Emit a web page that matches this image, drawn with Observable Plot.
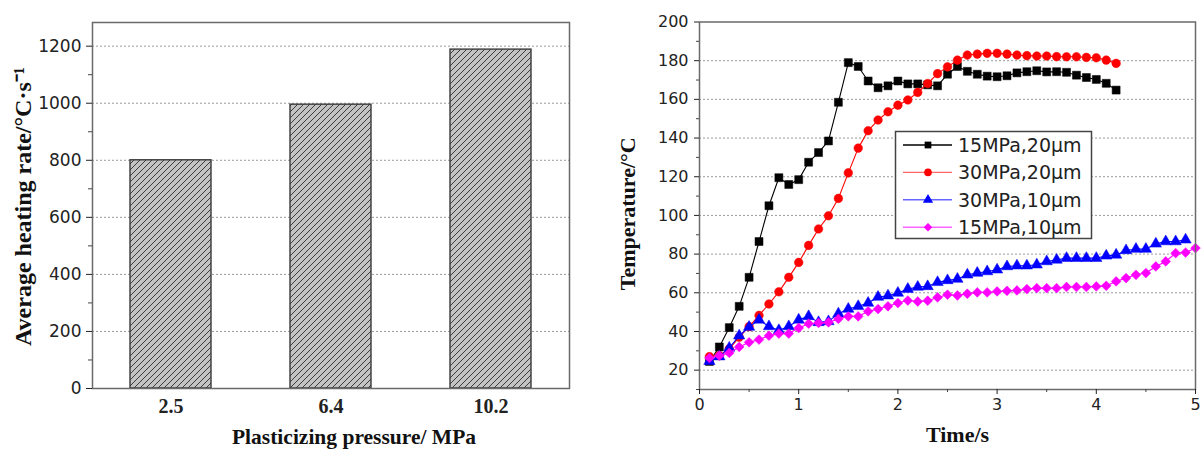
<!DOCTYPE html>
<html><head><meta charset="utf-8">
<script src="https://cdn.jsdelivr.net/npm/d3@7"></script>
<script src="https://cdn.jsdelivr.net/npm/@observablehq/plot@0.6"></script>
<style>
body{margin:0;background:#fff;}
#wrap{position:relative;width:1203px;height:450px;overflow:hidden;background:#fff;}
#left{position:absolute;left:0;top:0;}
#right{position:absolute;left:600px;top:0;}
#legend{position:absolute;left:0;top:0;pointer-events:none;}
</style></head>
<body><div id="wrap"><div id="left"></div><div id="right"></div><svg id="legend" width="1203" height="450"></svg></div>
<script>
// ---------- Left chart data ----------
const pressures = ["2.5", "6.4", "10.2"];
const heatingRates = [800, 995, 1188];
const rateTicks = [0, 200, 400, 600, 800, 1000, 1200];
const rateMinor = [100, 300, 500, 700, 900, 1100];
const rateGrid = [200, 400, 600, 800, 1000, 1200];

// ---------- Right chart data ----------
const timeTicks = [0, 1, 2, 3, 4, 5];
const timeMinor = [0.5, 1.5, 2.5, 3.5, 4.5];
const tempTicks = [20, 40, 60, 80, 100, 120, 140, 160, 180, 200];
const tempMinor = [10, 30, 50, 70, 90, 110, 130, 150, 170, 190];
const tempGrid = [20, 40, 60, 80, 100, 120, 140, 160, 180];

const time42 = [0.1,0.2,0.3,0.4,0.5,0.6,0.7,0.8,0.9,1.0,1.1,1.2,1.3,1.4,1.5,1.6,1.7,1.8,1.9,2.0,2.1,2.2,2.3,2.4,2.5,2.6,2.7,2.8,2.9,3.0,3.1,3.2,3.3,3.4,3.5,3.6,3.7,3.8,3.9,4.0,4.1,4.2];
const time49 = [0.1,0.2,0.3,0.4,0.5,0.6,0.7,0.8,0.9,1.0,1.1,1.2,1.3,1.4,1.5,1.6,1.7,1.8,1.9,2.0,2.1,2.2,2.3,2.4,2.5,2.6,2.7,2.8,2.9,3.0,3.1,3.2,3.3,3.4,3.5,3.6,3.7,3.8,3.9,4.0,4.1,4.2,4.3,4.4,4.5,4.6,4.7,4.8,4.9];
const time50 = [0.1,0.2,0.3,0.4,0.5,0.6,0.7,0.8,0.9,1.0,1.1,1.2,1.3,1.4,1.5,1.6,1.7,1.8,1.9,2.0,2.1,2.2,2.3,2.4,2.5,2.6,2.7,2.8,2.9,3.0,3.1,3.2,3.3,3.4,3.5,3.6,3.7,3.8,3.9,4.0,4.1,4.2,4.3,4.4,4.5,4.6,4.7,4.8,4.9,5.0];

const temp15_20 = [24.5,32,42,53,68,86.5,105,119.5,116,118.5,127.5,132.5,138.5,158.5,179,177,169.5,166,167,169.5,168,168,167.5,167,173,177,174.5,173,172,171.7,172.2,173.7,174.3,174.8,174.2,174.3,174,172.5,171.3,170.3,168.3,164.8];
const temp30_20 = [27,27.5,31,37,42.5,48.3,54.2,60.5,68,75.7,84.5,93,99.8,108.8,122,134.8,143.8,149.3,153.6,157,159.7,163.6,168.2,173.3,176.8,180.3,182.9,183.4,183.8,183.8,183.4,182.9,182.6,182.4,182.4,182.1,182,182,181.7,181.5,180.3,178.6];
const temp30_10 = [24.6,27,31.5,37.8,42.3,46,42.6,40.6,42.6,46,47.8,44.7,45.2,49.2,51.6,53,54.7,57.8,58.5,59.9,61.9,63,63.3,65.4,66.4,67.1,69.3,70.2,71,71.9,73.6,74,74,74.5,76.2,77,77.9,77.9,77.9,77.9,79.1,79.6,81.9,82.6,82.6,85.3,86.5,86.5,87.4];
const temp15_10 = [26.3,27.5,28.9,32,34.4,35.8,37.8,38.9,38.9,41.8,44,44.4,44.7,46.5,47.8,47.8,50.4,51.6,53,54.7,56,55.5,55.9,57.6,59,58.6,59.5,60.2,60.2,60.7,61,61.2,61.9,62.4,62.4,62.4,63,63,63,63.3,63.6,65.9,67.6,69.3,70.2,73.6,76.2,80.5,80.8,83.1];

const seriesNames = ["15MPa,20µm", "30MPa,20µm", "30MPa,10µm", "15MPa,10µm"];
const seriesColors = ["#000000", "#ff0000", "#0000ff", "#ff00ff"];
const seriesSymbols = ["square", "circle", "triangle", "diamond2"];

const plain = d => String(d);
const serifTitle = {fontSize: 22, fontFamily: "Liberation Serif", fontWeight: "bold", fill: "#111", lineAnchor: "middle", textAnchor: "middle"};

// ---------- Left chart ----------
const barData = pressures.map((p, i) => ({p, v: heatingRates[i]}));
const left = Plot.plot({
  width: 600, height: 450,
  marginLeft: 92, marginRight: 31, marginTop: 22, marginBottom: 62,
  x: {domain: pressures, paddingInner: 0.494, paddingOuter: 0.237},
  y: {domain: [0, 1283]},
  style: {background: "white", overflow: "visible"},
  marks: [
    Plot.ruleY(rateGrid, {stroke: "#9a9a9a", strokeWidth: 1, strokeDasharray: "2,2"}),
    Plot.barY(barData, {x: "p", y: "v", fill: "url(#hatch)", stroke: "#3a3a3a", strokeWidth: 1.4}),
    Plot.frame({stroke: "#6a6a6a", strokeWidth: 1.5}),
    Plot.axisY({ticks: rateTicks, tickFormat: plain, tickSize: 6, tickPadding: 5, label: null, fontSize: 17, fontFamily: "DejaVu Sans", color: "#222"}),
    Plot.axisY({ticks: rateMinor, tickSize: 4, tickFormat: () => "", label: null, color: "#444"}),
    Plot.axisX({tickSize: 0, tickPadding: 10, label: null, fontSize: 20, fontFamily: "Liberation Serif", fontWeight: "bold", color: "#222"}),
    Plot.text(["Plasticizing pressure/ MPa"], {frameAnchor: "bottom", dx: 23, dy: 49, ...serifTitle, fontSize: 21.5}),
    Plot.text(["Average heating rate/°C·s⁻¹"], {frameAnchor: "left", rotate: -90, dx: -69, dy: 1, ...serifTitle, fontSize: 24})
  ]
});
const defs = d3.select(left).insert("defs", ":first-child");
const pat = defs.append("pattern").attr("id", "hatch").attr("patternUnits", "userSpaceOnUse").attr("width", 6).attr("height", 6);
pat.append("rect").attr("width", 6).attr("height", 6).attr("fill", "#c3c3c3");
pat.append("path").attr("d", "M-1,1 L1,-1 M0,6 L6,0 M5,7 L7,5").attr("stroke", "#3c3c3c").attr("stroke-width", 1);
document.getElementById("left").appendChild(left);

// ---------- Right chart ----------
const seriesTimes = [time42, time42, time49, time50];
const seriesTemps = [temp15_20, temp30_20, temp30_10, temp15_10];
const seriesR = [4.5, 4.3, 4.2, 4.4];
const seriesMarks = seriesNames.flatMap((name, k) => {
  const rows = seriesTimes[k].map((t, i) => ({t, v: seriesTemps[k][i]}));
  return [
    Plot.line(rows, {x: "t", y: "v", stroke: seriesColors[k], strokeWidth: 1.1}),
    Plot.dot(rows, {x: "t", y: "v", symbol: seriesSymbols[k], r: seriesR[k], fill: seriesColors[k], stroke: seriesColors[k], strokeWidth: 0.5})
  ];
});
const right = Plot.plot({
  width: 603, height: 450,
  marginLeft: 99, marginRight: 8, marginTop: 21.5, marginBottom: 61,
  x: {domain: [0, 5]},
  y: {domain: [10, 200]},
  style: {background: "white", overflow: "visible"},
  marks: [
    Plot.ruleY(tempGrid, {stroke: "#9a9a9a", strokeWidth: 1, strokeDasharray: "2,2"}),
    ...seriesMarks,
    Plot.frame({stroke: "#6a6a6a", strokeWidth: 1.5}),
    Plot.axisY({ticks: tempTicks, tickFormat: plain, tickSize: 5, tickPadding: 6, label: null, fontSize: 16, fontFamily: "DejaVu Sans", color: "#222"}),
    Plot.axisY({ticks: tempMinor, tickSize: 3, tickFormat: () => "", label: null, color: "#444"}),
    Plot.axisX({ticks: timeTicks, tickFormat: plain, tickSize: 5, tickPadding: 4, label: null, fontSize: 16, fontFamily: "DejaVu Sans", color: "#222"}),
    Plot.axisX({ticks: timeMinor, tickSize: 3, tickFormat: () => "", label: null, color: "#444"}),
    Plot.text(["Time/s"], {frameAnchor: "bottom", dx: 10, dy: 45, ...serifTitle}),
    Plot.text(["Temperature/°C"], {frameAnchor: "left", rotate: -90, dx: -72, dy: 8, ...serifTitle})
  ]
});
document.getElementById("right").appendChild(right);

// ---------- Legend ----------
const lg = d3.select("#legend");
lg.append("rect").attr("x", 895.5).attr("y", 131.5).attr("width", 196).attr("height", 107)
  .attr("fill", "white").attr("stroke", "#444").attr("stroke-width", 1.5);
const symTypes = {square: d3.symbolSquare, circle: d3.symbolCircle, triangle: d3.symbolTriangle, diamond2: d3.symbolDiamond2};
seriesNames.forEach((name, k) => {
  const y = 145 + k * 27.4;
  lg.append("line").attr("x1", 903).attr("x2", 952).attr("y1", y).attr("y2", y)
    .attr("stroke", seriesColors[k]).attr("stroke-width", 1.4).attr("stroke-opacity", k === 0 ? 1 : 0.6);
  lg.append("path").attr("d", d3.symbol().type(symTypes[seriesSymbols[k]]).size(Math.PI * 3.8 * 3.8)())
    .attr("transform", `translate(928,${y})`).attr("fill", seriesColors[k]);
  lg.append("text").attr("x", 958).attr("y", y).attr("dy", "0.36em")
    .attr("font-family", "DejaVu Sans").attr("font-size", 19).attr("fill", "#222").text(name);
});
</script></body></html>
